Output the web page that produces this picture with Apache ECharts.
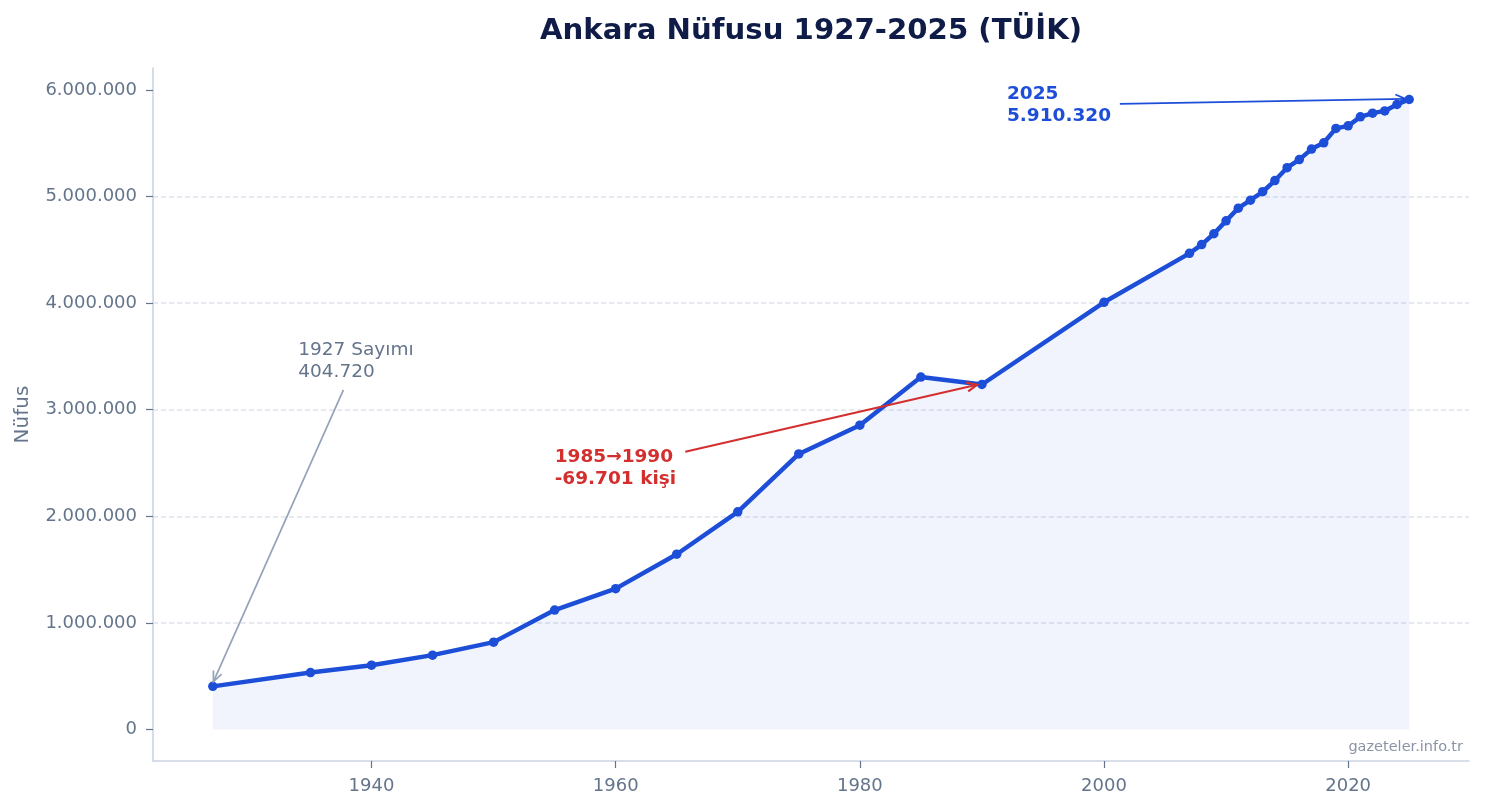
<!DOCTYPE html>
<html>
<head>
<meta charset="utf-8">
<title>Ankara Nüfusu 1927-2025</title>
<script src="https://cdn.jsdelivr.net/npm/echarts@6/dist/echarts.min.js"></script>
<style>
  html, body { margin: 0; padding: 0; background: #ffffff; }
  #chart { width: 1485px; height: 810px; }
</style>
</head>
<body>
<div id="chart"></div>
<script>
// veri (TÜİK)
const years = [1927, 1935, 1940, 1945, 1950, 1955, 1960, 1965, 1970, 1975, 1980, 1985, 1990, 2000,
  2007, 2008, 2009, 2010, 2011, 2012, 2013, 2014, 2015, 2016, 2017, 2018, 2019, 2020, 2021, 2022, 2023, 2024, 2025];
const population = [404720, 534025, 602965, 697500, 819693, 1120742, 1321380, 1644302, 2041658, 2585293, 2854689, 3306327, 3236626, 4007860,
  4466756, 4548939, 4650802, 4771716, 4890893, 4965542, 5045083, 5150072, 5270575, 5346518, 5445026, 5503985, 5639076, 5663322, 5747325, 5782285, 5803482, 5864049, 5910320];
const xTicks = [1940, 1960, 1980, 2000, 2020];
const yTicks = [0, 1000000, 2000000, 3000000, 4000000, 5000000, 6000000];

// notlar: metin ve okun hedefi
const noteTexts = ['1927 Sayımı\n404.720', '1985→1990\n-69.701 kişi', '2025\n5.910.320'];

const FONT = '"DejaVu Sans", sans-serif';

function fmt(v) {
  return String(Math.round(v)).replace(/\B(?=(\d{3})+(?!\d))/g, '.');
}

// ok ve yazı yerleşimi (veri koordinatlarında)
const notes = [
  { text: noteTexts[0], at: [1934.0, 3459000], from: [1937.7, 3187000], to: [1927.05, 450000],
    color: '#64748b', arrow: '#94a3b8', weight: 'normal', lw: 1.7 },
  { text: noteTexts[1], at: [1955.0, 2456000], from: [1965.7, 2606000], to: [1989.6, 3234000],
    color: '#d32f2f', arrow: '#d32f2f', weight: 'bold', lw: 2.2 },
  { text: noteTexts[2], at: [1992.05, 5859000], from: [2001.3, 5869000], to: [2024.7, 5916000],
    color: '#1d4ed8', arrow: '#1d4ed8', weight: 'bold', lw: 1.7 }
];

function renderNote(params, api) {
  const n = notes[params.dataIndex];
  const p1 = api.coord(n.from);
  const p2 = api.coord(n.to);
  const t = api.coord(n.at);
  const ang = Math.atan2(p2[1] - p1[1], p2[0] - p1[0]);
  const L = 11, w = 0.42;
  const h1 = [p2[0] - L * Math.cos(ang - w), p2[1] - L * Math.sin(ang - w)];
  const h2 = [p2[0] - L * Math.cos(ang + w), p2[1] - L * Math.sin(ang + w)];
  return {
    type: 'group',
    children: [
      { type: 'line', shape: { x1: p1[0], y1: p1[1], x2: p2[0], y2: p2[1] },
        style: { stroke: n.arrow, lineWidth: n.lw } },
      { type: 'polyline', shape: { points: [h1, p2, h2] },
        style: { stroke: n.arrow, fill: null, lineWidth: n.lw } },
      { type: 'text', x: t[0], y: t[1],
        style: { text: n.text, fill: n.color, fontFamily: 'DejaVu Sans', fontSize: 18.5,
          fontWeight: n.weight, lineHeight: 22, align: 'left', verticalAlign: 'middle' } }
    ]
  };
}

let chart = echarts.init(document.getElementById('chart'));
chart.setOption({
  backgroundColor: '#ffffff',
  animation: false,
  textStyle: { fontFamily: FONT },
  grid: { left: 153, right: 16, top: 68, bottom: 49 },
  graphic: [
    { type: 'text', x: 811, y: 31,
      style: { text: 'Ankara Nüfusu 1927-2025 (TÜİK)', fill: '#0f1c47', fontFamily: 'DejaVu Sans',
        fontSize: 29.2, fontWeight: 'bold', align: 'center', verticalAlign: 'middle' } },
    { type: 'text', x: 1463, y: 747,
      style: { text: 'gazeteler.info.tr', fill: '#8a94a6', fontFamily: 'DejaVu Sans',
        fontSize: 14.5, align: 'right', verticalAlign: 'middle' } }
  ],
  xAxis: {
    type: 'value',
    min: 1922.1,
    max: 2029.9,
    axisLine: { show: true, onZero: false, lineStyle: { color: '#cbd5e1', width: 1.6 } },
    axisTick: { show: true, length: 7, customValues: xTicks, lineStyle: { color: '#64748b', width: 1.2 } },
    axisLabel: { customValues: xTicks, color: '#64748b', fontSize: 18, margin: 16, fontFamily: FONT,
      formatter: function (v) { return String(v); } },
    splitLine: { show: false }
  },
  yAxis: {
    type: 'value',
    min: -295516,
    max: 6205836,
    name: 'Nüfus',
    nameLocation: 'middle',
    nameGap: 120,
    nameTextStyle: { color: '#64748b', fontSize: 20, fontFamily: FONT },
    axisLine: { show: true, onZero: false, lineStyle: { color: '#cbd5e1', width: 1.6 } },
    axisTick: { show: true, length: 7, customValues: yTicks, lineStyle: { color: '#64748b', width: 1.2 } },
    axisLabel: { customValues: yTicks, color: '#64748b', fontSize: 18, margin: 16, fontFamily: FONT,
      formatter: fmt },
    splitLine: { show: true, showMinLine: false, showMaxLine: false,
      lineStyle: { color: '#dde3ec', type: [5, 3], width: 1.5 } }
  },
  series: [
    {
      name: 'Nüfus',
      type: 'line',
      data: years.map((y, i) => [y, population[i]]),
      symbol: 'circle',
      symbolSize: 9.5,
      lineStyle: { color: '#1d4ed8', width: 4.5 },
      itemStyle: { color: '#1d4ed8' },
      areaStyle: { color: 'rgba(29,78,216,0.09)' },
      z: 3
    },
    {
      type: 'custom',
      renderItem: renderNote,
      data: notes.map((n, i) => [n.to[0], n.to[1]]),
      clip: false,
      silent: true,
      z: 5
    }
  ]
});
window.addEventListener('resize', function () {
  chart.resize();
});
</script>
</body>
</html>
